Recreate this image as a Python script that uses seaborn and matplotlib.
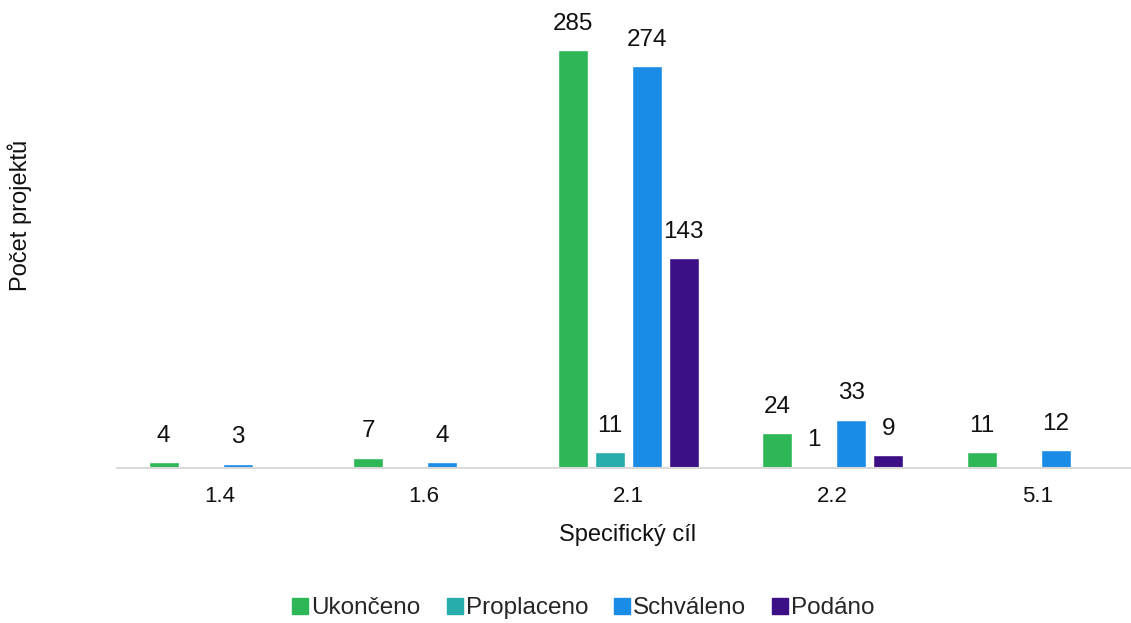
import numpy as np
import pandas as pd
import matplotlib
matplotlib.use("Agg")
import matplotlib.pyplot as plt
import seaborn as sns

# data
categories = ["1.4", "1.6", "2.1", "2.2", "5.1"]
series = ["Ukončeno", "Proplaceno", "Schváleno", "Podáno"]
ukonceno = [4, 7, 285, 24, 11]
proplaceno = [np.nan, np.nan, 11, 1, np.nan]
schvaleno = [3, 4, 274, 33, 12]
podano = [np.nan, np.nan, 143, 9, np.nan]
colors = ["#2DB757", "#27ADAB", "#1A8CE6", "#3C0F87"]

df = pd.DataFrame({"Specifický cíl": categories, "Ukončeno": ukonceno,
                   "Proplaceno": proplaceno, "Schváleno": schvaleno, "Podáno": podano})
long_df = df.melt(id_vars="Specifický cíl", var_name="stav", value_name="pocet")

sns.set_style("white")
plt.rcParams['font.family'] = ['Liberation Sans', 'DejaVu Sans']

W, H = 1131, 623
fig = plt.figure(figsize=(W / 100, H / 100), dpi=100)
ax = fig.add_axes([117 / W, (H - 468) / H, (W - 117) / W, 440 / H])

sns.barplot(data=long_df, x="Specifický cíl", y="pocet", hue="stav",
            hue_order=series, order=categories, palette=colors,
            width=0.725, gap=0.19, ax=ax, legend=False, saturation=1)

for cont in ax.containers:
    labels = ["" if np.isnan(v) else f"{int(v)}" for v in cont.datavalues]
    ax.bar_label(cont, labels=labels, padding=11, fontsize=17.5, color="#111111")

ax.set_xlim(-0.5, -0.5 + (W - 117) / 204.5)
ax.set_ylim(0, 300)
ax.set_yticks([])
ax.set_xlabel("")
ax.set_ylabel("")
ax.tick_params(axis="x", length=0, labelsize=16, pad=13, colors="#111111")
for s in ["top", "right", "left"]:
    ax.spines[s].set_visible(False)
ax.spines["bottom"].set_color("#d9d9d9")
ax.spines["bottom"].set_linewidth(1.5)

fig.text(628 / W, 1 - 535 / H, "Specifický cíl", ha="center", va="center",
         fontsize=17, color="#111111")
fig.text(20 / W, 1 - 215 / H, "Počet projektů", ha="center", va="center",
         rotation=90, fontsize=17, color="#111111")

handles = [plt.Line2D([], [], marker="s", linestyle="", markersize=11, color=c)
           for c in colors]
fig.legend(handles, series, loc="center", bbox_to_anchor=(582 / W, 1 - 608 / H),
           ncol=4, frameon=False, fontsize=17.5, handletextpad=0.0,
           columnspacing=0.95, handlelength=0.9)

fig.savefig("out.png", dpi=100)
